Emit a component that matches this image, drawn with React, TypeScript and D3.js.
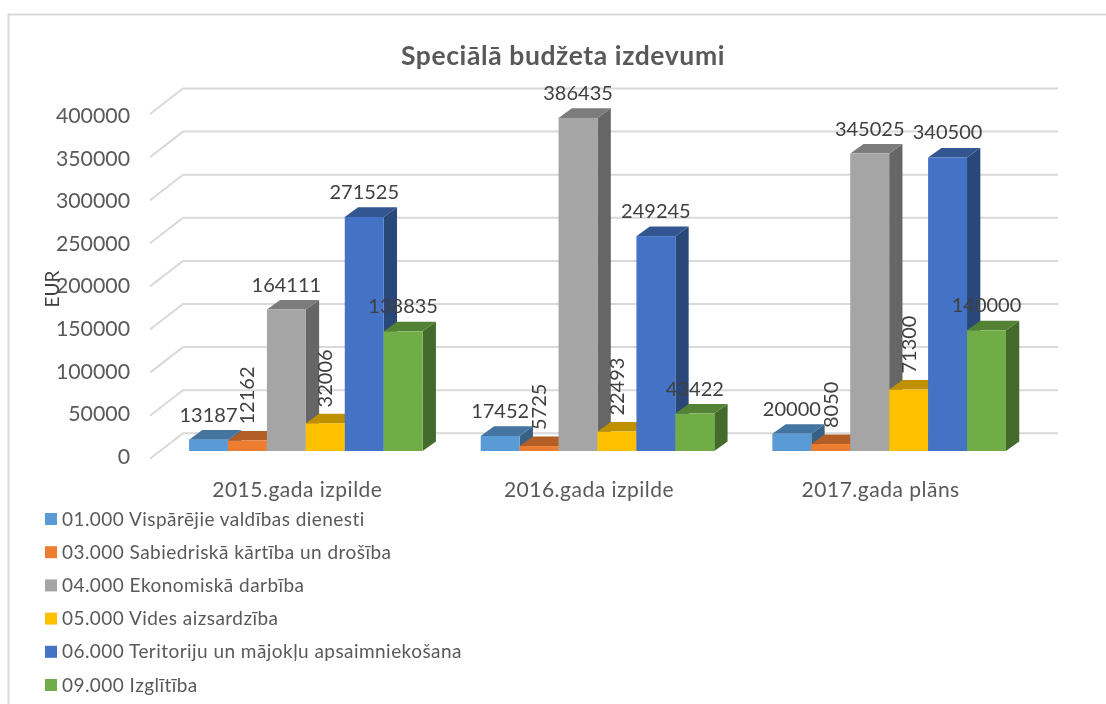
import React, { useEffect, useRef } from 'react'
import * as d3 from 'd3'

const categories = ['2015.gada izpilde', '2016.gada izpilde', '2017.gada plāns']
const seriesNames = [
  '01.000 Vispārējie valdības dienesti',
  '03.000 Sabiedriskā kārtība un drošība',
  '04.000 Ekonomiskā darbība',
  '05.000 Vides aizsardzība',
  '06.000 Teritoriju un mājokļu apsaimniekošana',
  '09.000 Izglītība',
]
const seriesColors = ['#5B9BD5', '#ED7D31', '#A5A5A5', '#FFC000', '#4472C4', '#70AD47']
const general = [13187, 17452, 20000]
const publicOrder = [12162, 5725, 8050]
const economic = [164111, 386435, 345025]
const environment = [32006, 22493, 71300]
const housing = [271525, 249245, 340500]
const education = [138835, 43422, 140000]
const seriesValues = [general, publicOrder, economic, environment, housing, education]
const yTicks = [0, 50000, 100000, 150000, 200000, 250000, 300000, 350000, 400000]

// labels of these series are turned on their side
const rotatedSeries = [1, 3]

const FONT = 'Lato, Carlito, sans-serif'

const App = () => {
  const chartRef = useRef<SVGSVGElement | null>(null)

  useEffect(() => {
    const svg = d3.select(chartRef.current)
    svg.selectAll('*').remove()

    // Frame, only top and left are in the crop
    svg.append('path')
      .attr('d', 'M8.5,704V14.5H1106')
      .attr('fill', 'none')
      .attr('stroke', '#d9d9d9')
      .attr('stroke-width', 2)

    // Title
    svg.append('text')
      .attr('x', 563)
      .attr('y', 65)
      .attr('text-anchor', 'middle')
      .attr('font-size', 26.5)
      .attr('letter-spacing', 0.6)
      .attr('font-weight', 700)
      .attr('fill', '#595959')
      .text('Speciālā budžeta izdevumi')

    // Scales: y is the plane of the bar fronts, the walls are shifted from it
    const y = d3.scaleLinear().domain([0, 400000]).range([451, 106.2])
    const yLabel = d3.scaleLinear().domain([0, 400000]).range([456.5, 115.7])
    const xFloor = d3.scaleBand().domain(categories).range([150, 1025])
    const xInner = d3.scaleBand<number>()
      .domain(d3.range(seriesNames.length))
      .range([0, 233.6])
    const barOffset = (xFloor.bandwidth() - xInner.range()[1]) / 2 + 10

    const wallDx = 33
    const wallDy = 25.5
    const floorToBar = 7.8
    const depthX = 13.3
    const depthY = 9.6

    // Gridlines
    const grid = svg.append('g')
    grid.selectAll('path')
      .data(yTicks)
      .enter()
      .append('path')
      .attr('d', (d) => {
        const front = y(d) + floorToBar
        return `M150,${front}L${150 + wallDx},${front - wallDy}H${150 + wallDx + 875}`
      })
      .attr('fill', 'none')
      .attr('stroke', '#d9d9d9')
      .attr('stroke-width', 2)

    // Axis labels
    const yAxis = svg.append('g')
      .attr('transform', 'translate(130,0)')
      .call(d3.axisLeft(yLabel).tickValues(yTicks).tickSize(0).tickPadding(0).tickFormat((d) => String(d)))
    yAxis.select('.domain').remove()
    yAxis.selectAll('text')
      .attr('font-family', FONT)
      .attr('font-size', 21.3)
      .attr('fill', '#595959')

    const xAxis = svg.append('g')
      .attr('transform', 'translate(1.5,482)')
      .call(d3.axisBottom(xFloor).tickSize(0).tickPadding(0))
    xAxis.select('.domain').remove()
    xAxis.selectAll('text')
      .attr('font-family', FONT)
      .attr('font-size', 21)
      .attr('letter-spacing', 0.5)
      .attr('fill', '#595959')

    svg.append('text')
      .attr('transform', 'translate(59,289) rotate(-90)')
      .attr('text-anchor', 'middle')
      .attr('font-size', 19)
      .attr('fill', '#404040')
      .text('EUR')

    // Bars, one box per value
    const barWidth = xInner.bandwidth()
    const shade = (color: string, k: number) => {
      const c = d3.rgb(color)
      return d3.rgb(c.r * k, c.g * k, c.b * k).formatHex()
    }
    const barLeft = (s: number, c: number) => xFloor(categories[c])! + barOffset + xInner(s)!

    seriesValues.forEach((values, s) => {
      const color = seriesColors[s]
      const group = svg.append('g').selectAll('g').data(values).enter().append('g')
      group.append('path')
        .attr('d', (d, c) => {
          const x1 = barLeft(s, c) + barWidth
          return `M${x1},${y(d)}l${depthX},${-depthY}V${y(0) - depthY}L${x1},${y(0)}Z`
        })
        .attr('fill', shade(color, 0.62))
      group.append('path')
        .attr('d', (d, c) => {
          const x0 = barLeft(s, c)
          return `M${x0},${y(d)}l${depthX},${-depthY}h${barWidth}l${-depthX},${depthY}Z`
        })
        .attr('fill', shade(color, 0.75))
      group.append('rect')
        .attr('x', (d, c) => barLeft(s, c))
        .attr('y', (d) => y(d))
        .attr('width', barWidth)
        .attr('height', (d) => y(0) - y(d))
        .attr('fill', color)
    })

    // Data labels go on top of all bars
    seriesValues.forEach((values, s) => {
      const rotated = rotatedSeries.includes(s)
      svg.append('g').selectAll('text').data(values).enter().append('text')
        .attr('transform', (d, c) => {
          const cx = barLeft(s, c) + barWidth / 2
          return rotated
            ? `translate(${cx + 7},${y(d) - 16}) rotate(-90)`
            : `translate(${cx},${y(d) - 18})`
        })
        .attr('text-anchor', rotated ? 'start' : 'middle')
        .attr('font-size', 20)
        .attr('fill', '#404040')
        .text((d) => d)
    })

    // Legend
    const legendY = d3.scalePoint().domain(seriesNames).range([519, 685])
    const legend = svg.append('g').selectAll('g').data(seriesNames).enter().append('g')
      .attr('transform', (d) => `translate(45,${legendY(d)})`)
    legend.append('rect')
      .attr('y', -6)
      .attr('width', 12)
      .attr('height', 12)
      .attr('fill', (d, i) => seriesColors[i])
    legend.append('text')
      .attr('x', 17)
      .attr('y', 6.5)
      .attr('font-size', 19)
      .attr('letter-spacing', 0.45)
      .attr('fill', '#595959')
      .text((d) => d)

    return () => {
      svg.selectAll('*').remove()
    }
  }, [])

  return (
    <svg
      ref={chartRef}
      width={1106}
      height={704}
      fontFamily={FONT}
      style={{ position: 'absolute', left: 0, top: 0, background: '#fff', filter: 'blur(0.5px)' }}
    />
  )
}

export default App
